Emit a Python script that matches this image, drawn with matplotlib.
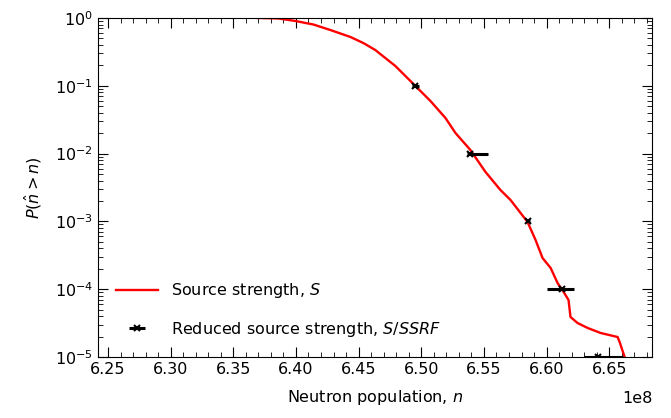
import matplotlib
matplotlib.use('Agg')
import matplotlib.pyplot as plt
from matplotlib.ticker import AutoMinorLocator
from matplotlib.transforms import ScaledTranslation

# survival curve for the source strength S
n_curve = [6.370e8, 6.3858e8, 6.3994e8, 6.4140e8, 6.4274e8, 6.4434e8, 6.4540e8,
           6.4633e8, 6.4793e8, 6.4945e8, 6.5073e8, 6.5193e8, 6.5273e8, 6.5392e8,
           6.5512e8, 6.5632e8, 6.5712e8, 6.5848e8, 6.5912e8, 6.5968e8, 6.6032e8,
           6.6088e8, 6.6136e8, 6.6175e8, 6.6191e8, 6.6247e8, 6.6327e8, 6.6431e8,
           6.6567e8, 6.6583e8, 6.6623e8]
p_curve = [1.0, 0.984, 0.904, 0.800, 0.665, 0.525, 0.425,
           0.337, 0.196, 0.103, 0.0597, 0.0335, 0.0201, 0.0113,
           0.00537, 0.00290, 0.00207, 0.00098, 0.000532, 0.000288, 0.000206,
           0.000123, 0.0000910, 0.0000693, 0.0000389, 0.0000317, 0.0000268, 0.0000226,
           0.0000197, 0.0000166, 0.00001]

# reduced source strength estimates with asymmetric spread
n_red = [6.4953e8, 6.5392e8, 6.5853e8, 6.6125e8, 6.6407e8]
p_red = [1e-1, 1e-2, 1e-3, 1e-4, 1e-5]
err_lo = [0.003e8, 0.0024e8, 0.0016e8, 0.012e8, 0.0112e8]
err_hi = [0.003e8, 0.0144e8, 0.0016e8, 0.0093e8, 0.020e8]

plt.rcParams['font.size'] = 11.5
plt.rcParams['mathtext.default'] = 'it'

fig = plt.figure(figsize=(6.71, 4.18), dpi=100)
ax = fig.add_axes([0.146, 0.146, 0.826, 0.811])

ax.plot(n_curve, p_curve, color='red', lw=1.7, label='Source strength, $S$')
ax.errorbar(n_red, p_red, xerr=[err_lo, err_hi], fmt='x', color='black',
            ms=4.5, mew=1.5, elinewidth=2.2, capsize=0,
            label='Reduced source strength, $S/SSRF$')

ax.set_yscale('log')
ax.set_ylim(1e-5, 1)
ax.set_xlim(6.242e8, 6.6843e8)
ax.xaxis.set_minor_locator(AutoMinorLocator(5))
ax.tick_params(which='both', direction='in', top=True, right=True)
ax.tick_params(which='major', length=7)
ax.tick_params(which='minor', length=3.5)

ax.set_xlabel('Neutron population, $n$', labelpad=8)
ax.set_ylabel(r'$P(\hat{n} > n)$', labelpad=8)
off = ax.xaxis.get_offset_text()
off.set_transform(off.get_transform() + ScaledTranslation(0, -7 / 72, fig.dpi_scale_trans))
ax.legend(loc='lower left', frameon=False, handlelength=2.6,
          labelspacing=1.2, borderaxespad=0.75)

fig.savefig('out.png', dpi=100)
